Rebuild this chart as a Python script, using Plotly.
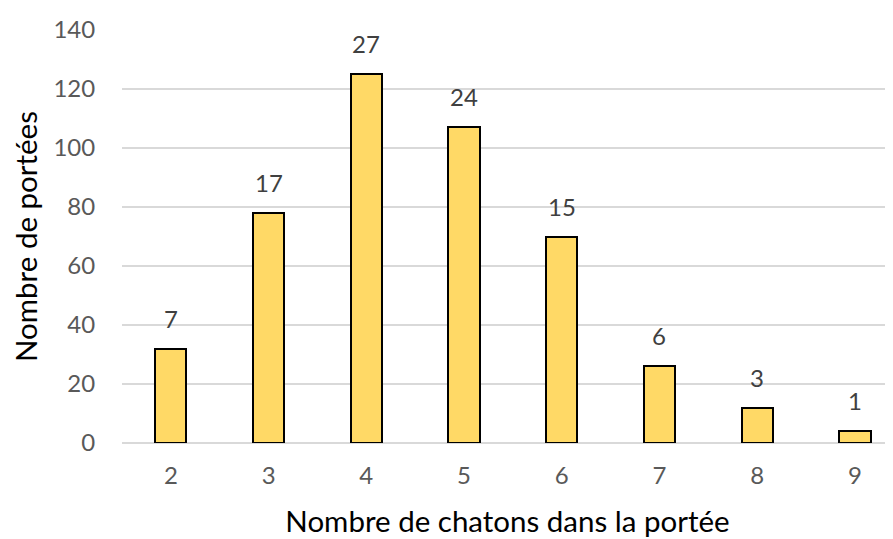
import plotly.graph_objects as go

categories = [2, 3, 4, 5, 6, 7, 8, 9]
portees = [32, 78, 125, 107, 70, 26, 12, 4]
labels = ["7", "17", "27", "24", "15", "6", "3", "1"]
y_ticks = [0, 20, 40, 60, 80, 100, 120, 140]

FONT = "Lato"

fig = go.Figure()
fig.add_trace(go.Bar(
    x=categories, y=portees,
    width=0.32,
    marker=dict(color="#FFD966", line=dict(color="#000000", width=2)),
    showlegend=False,
))
for c, v, t in zip(categories, portees, labels):
    fig.add_annotation(x=c, y=v, text=t, showarrow=False, yanchor="bottom",
                       yshift=14, font=dict(family=FONT, size=24, color="#404040"))

fig.update_layout(
    width=893, height=539,
    margin=dict(l=114, r=8, t=22, b=104),
    paper_bgcolor="white", plot_bgcolor="white",
    font=dict(family=FONT),
    bargap=0,
    xaxis=dict(
        range=[1.5, 9.39], tickvals=categories,
        ticktext=[str(c) for c in categories],
        automargin=False,
        showgrid=False, showline=False, zeroline=False,
        ticks="outside", ticklen=11, tickcolor="rgba(0,0,0,0)",
        tickfont=dict(size=24, color="#595959"),
        title=dict(text="Nombre de chatons dans la portée", standoff=23,
                   font=dict(size=29.5, color="#000000")),
    ),
    yaxis=dict(
        range=[0, 140], tickvals=y_ticks,
        automargin=False,
        showgrid=True, gridcolor="#D9D9D9", gridwidth=1.5,
        zeroline=True, zerolinecolor="#D9D9D9", zerolinewidth=1.5,
        showline=False,
        ticks="outside", ticklen=21, tickcolor="rgba(0,0,0,0)",
        tickfont=dict(size=24, color="#595959"),
        title=dict(text="Nombre de portées", standoff=15,
                   font=dict(size=29.5, color="#000000")),
    ),
)

fig.write_html("out.html")
